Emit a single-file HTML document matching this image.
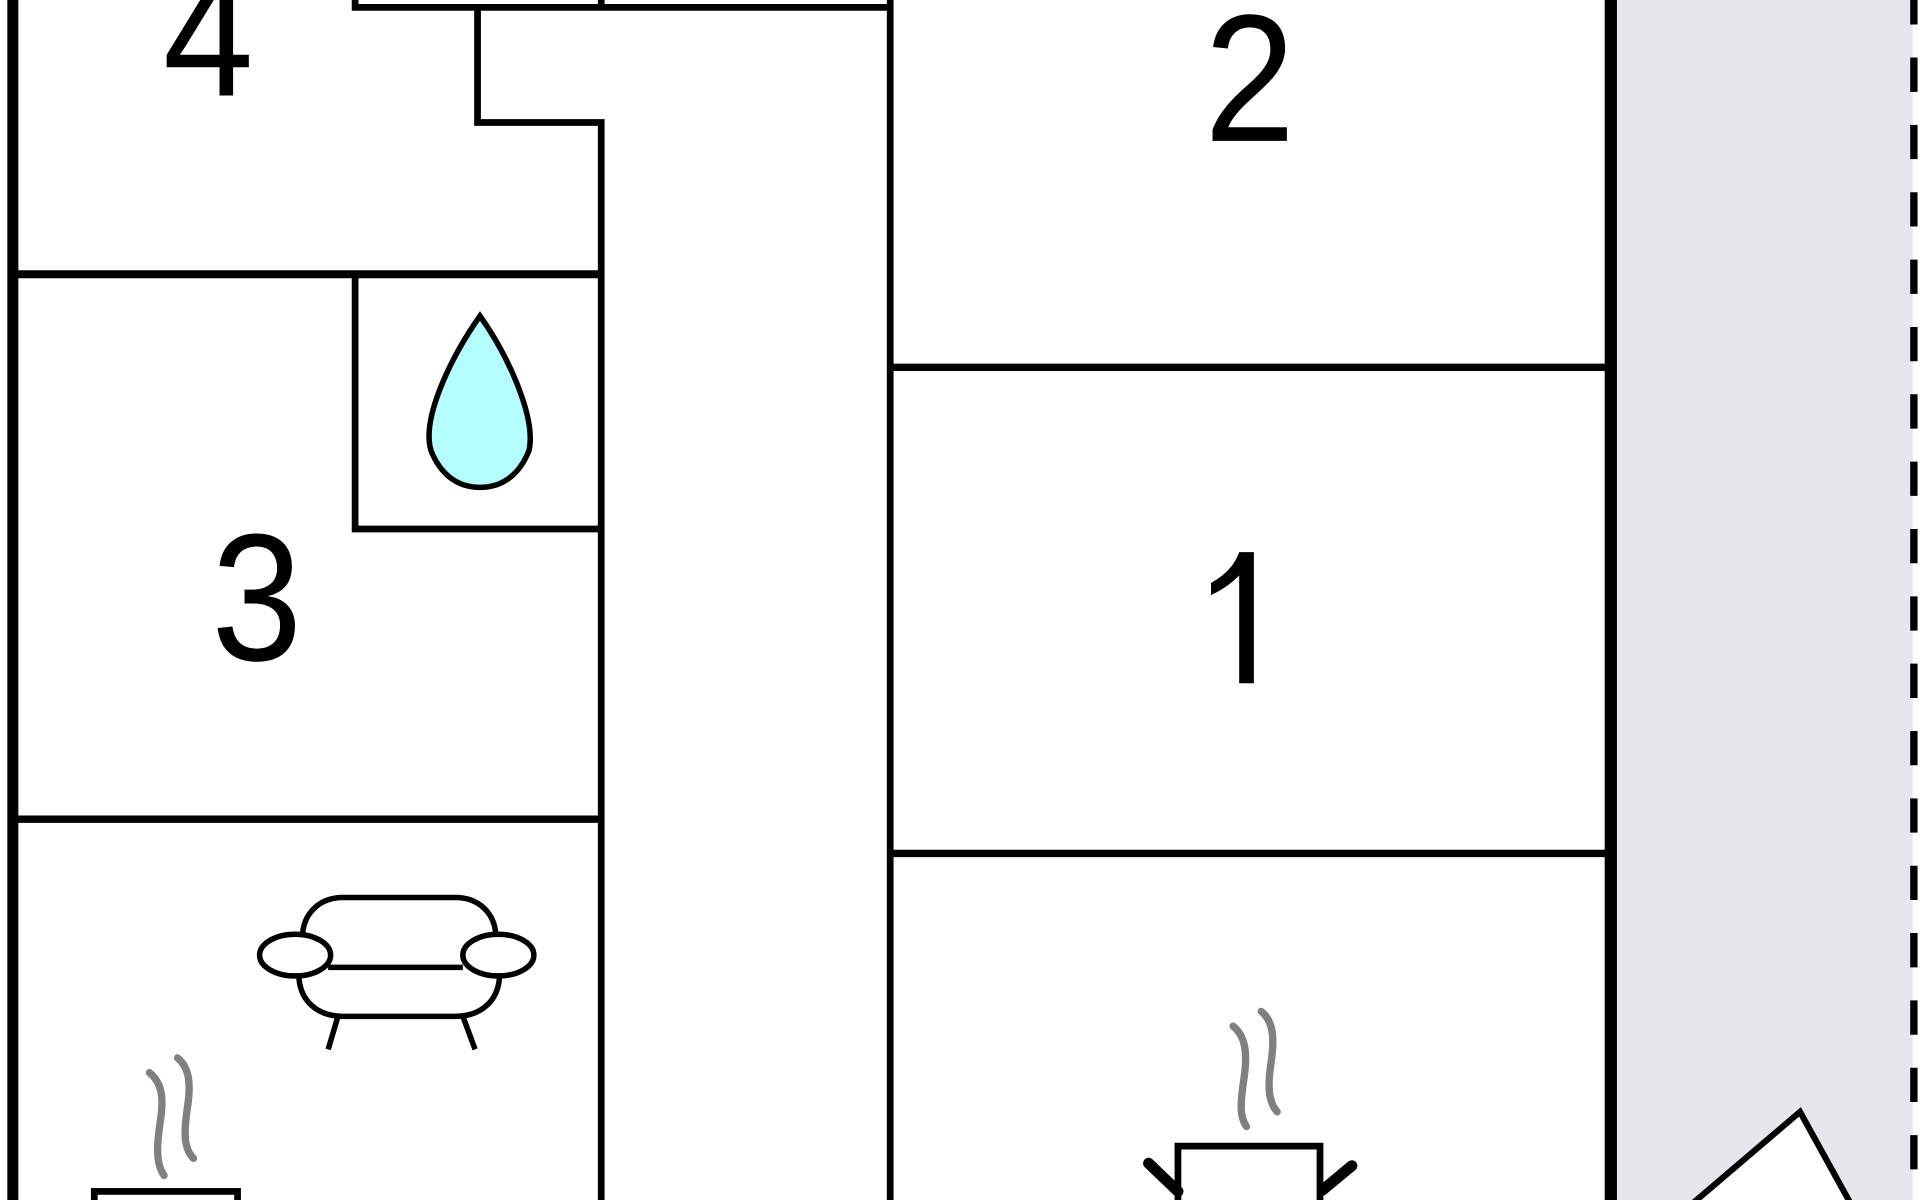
<!DOCTYPE html>
<html><head><meta charset="utf-8"><style>
html,body{margin:0;padding:0;background:#fff;}
svg{display:block;}
text{font-family:"Liberation Sans",sans-serif;fill:#000;}
</style></head><body>
<svg width="1920" height="1200" viewBox="0 0 1568 980" xmlns="http://www.w3.org/2000/svg">
<rect x="0" y="0" width="1568" height="980" fill="#fff"/>
<rect x="1320" y="0" width="242" height="980" fill="#e6e6eb"/>
<line x1="1563" y1="-8" x2="1563" y2="990" stroke="#000" stroke-width="6" stroke-dasharray="28 27"/>
<g stroke="#000" fill="none" stroke-width="5.5">
<line x1="10.5" y1="0" x2="10.5" y2="980" stroke-width="9"/>
<line x1="1315.5" y1="0" x2="1315.5" y2="980" stroke-width="10"/>
<polyline points="290,0 290,6 727,6"/>
<line x1="491" y1="0" x2="491" y2="6"/>
<polyline points="390,6 390,100 491,100 491,980"/>
<line x1="727" y1="0" x2="727" y2="980"/>
<line x1="12" y1="224" x2="491" y2="224" stroke-width="6.5"/>
<polyline points="290,224 290,432 491,432"/>
<line x1="12" y1="669" x2="491" y2="669" stroke-width="6"/>
<line x1="727" y1="300" x2="1311" y2="300" stroke-width="6"/>
<line x1="727" y1="697" x2="1311" y2="697" stroke-width="6"/>
</g>
<path d="M392,258 C368,292 344,342 352,368 C360,388 374,398 392,398 C410,398 424,388 432,368 C438,342 416,292 392,258Z" fill="#b3ffff" stroke="#000" stroke-width="4.5"/>
<g transform="scale(0.9,1)">
<text x="189" y="78" font-size="148" text-anchor="middle">4</text>
<text x="1134" y="115" font-size="148" text-anchor="middle">2</text>
<text x="233" y="539" font-size="148" text-anchor="middle">3</text>
</g>
<rect x="1012" y="451" width="12" height="107" fill="#000"/>
<path d="M1012,451 L1024,451 L1022,456 C1015,470 1002,480 989,486 L989,476 C1000,470 1008,462 1012,451Z" fill="#000"/>
<text x="1012" y="558" font-size="1" fill="#fff">1</text>
<g stroke="#000" stroke-width="4.5" fill="#fff">
<path d="M247,766 C247,745 262,733 280,733 L372,733 C390,733 405,745 405,766"/>
<path d="M244,795 C244,818 260,830 280,830 L372,830 C392,830 408,818 408,795"/>
<line x1="268" y1="790" x2="378" y2="790"/>
<ellipse cx="241" cy="780" rx="29" ry="17"/>
<ellipse cx="407" cy="780" rx="29" ry="17"/>
<line x1="276" y1="830" x2="268" y2="857"/>
<line x1="378" y1="830" x2="388" y2="857"/>
</g>
<g fill="none" stroke-linecap="round">
<path d="M122,876 C132,884 134,896 131,915 C128,935 127,950 134,960" stroke="#808080" stroke-width="6"/>
<path d="M145,864 C155,872 156,886 153,905 C150,925 150,938 158,946" stroke="#808080" stroke-width="6"/>
<rect x="77" y="973" width="117" height="20" stroke="#000" stroke-width="5.5" fill="#fff"/>
</g>
<g fill="none" stroke-linecap="round">
<path d="M1007,838 C1017,846 1019,860 1016,880 C1013,900 1012,912 1018,920" stroke="#808080" stroke-width="6"/>
<path d="M1030,826 C1040,834 1041,848 1038,868 C1035,888 1036,900 1043,908" stroke="#808080" stroke-width="6"/>
<rect x="962" y="936" width="116" height="60" stroke="#000" stroke-width="5.5" fill="#fff"/>
<line x1="938" y1="950" x2="962" y2="973" stroke="#000" stroke-width="9"/>
<line x1="1104" y1="952" x2="1080" y2="972" stroke="#000" stroke-width="9"/>
</g>
<polygon points="1368,995 1470,908 1518,995" fill="#fff" stroke="#000" stroke-width="5"/>
</svg>
</body></html>
